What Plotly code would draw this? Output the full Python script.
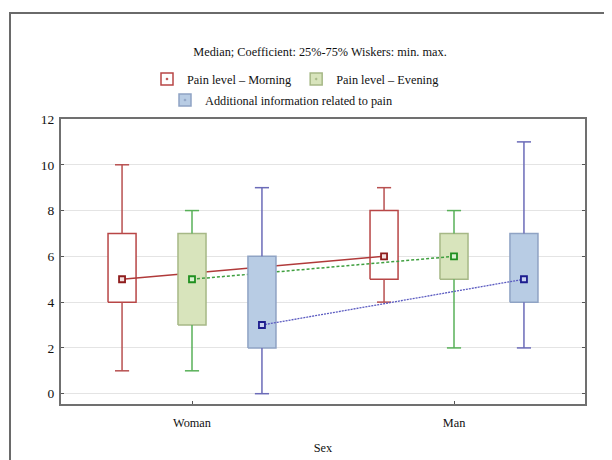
import plotly.graph_objects as go

# ---------------- data ----------------
categories = ["Woman", "Man"]
series_names = ["Pain level – Morning", "Pain level – Evening",
                "Additional information related to pain"]

morning_min = [1, 4]
morning_q1 = [4, 5]
morning_med = [5, 6]
morning_q3 = [7, 8]
morning_max = [10, 9]

evening_min = [1, 2]
evening_q1 = [3, 5]
evening_med = [5, 6]
evening_q3 = [7, 7]
evening_max = [8, 8]

extra_min = [0, 2]
extra_q1 = [2, 4]
extra_med = [3, 5]
extra_q3 = [6, 7]
extra_max = [9, 11]

y_ticks = [0, 2, 4, 6, 8, 10, 12]

# ---------------- styling ----------------
FONT = "Liberation Serif, Times New Roman, serif"
styles = [
    dict(fill="#ffffff", border="#b84646", whisk="#b85050",
         med="#8e1c1c", medfill="#f4e0e0", line=dict(color="#b03a3a", width=1.5, dash="solid"),
         legend="legend"),
    dict(fill="#d8e4bc", border="#a6b886", whisk="#58b058",
         med="#1f8f1f", medfill="#d8f0d0", line=dict(color="#3f9f3f", width=1.5, dash="3px,2px"),
         legend="legend"),
    dict(fill="#b8cce4", border="#8fa3c4", whisk="#6b6bb8",
         med="#1c1c8e", medfill="#c8d0f0", line=dict(color="#5a5ac0", width=1.3, dash="2px,1px"),
         legend="legend2"),
]
offsets = [-0.267, 0.0, 0.267]
half_w = 0.0535
cap_w = 0.027

data = [
    (morning_min, morning_q1, morning_med, morning_q3, morning_max),
    (evening_min, evening_q1, evening_med, evening_q3, evening_max),
    (extra_min, extra_q1, extra_med, extra_q3, extra_max),
]

fig = go.Figure()

for s, (mn, q1, md, q3, mx) in enumerate(data):
    st = styles[s]
    xs = [i + offsets[s] for i in range(len(categories))]
    # box bodies
    bx, by = [], []
    for x, a, b in zip(xs, q1, q3):
        bx += [x - half_w, x + half_w, x + half_w, x - half_w, x - half_w, None]
        by += [a, a, b, b, a, None]
    fig.add_trace(go.Scatter(x=bx, y=by, mode="lines", fill="toself",
                             fillcolor=st["fill"], line=dict(color=st["border"], width=1.5),
                             showlegend=False, hoverinfo="skip"))
    # whiskers
    wx, wy = [], []
    for x, lo, a, b, hi in zip(xs, mn, q1, q3, mx):
        wx += [x, x, None, x, x, None, x - cap_w, x + cap_w, None, x - cap_w, x + cap_w, None]
        wy += [b, hi, None, a, lo, None, hi, hi, None, lo, lo, None]
    fig.add_trace(go.Scatter(x=wx, y=wy, mode="lines", line=dict(color=st["whisk"], width=1.5),
                             showlegend=False, hoverinfo="skip"))
    # median connecting line and markers
    fig.add_trace(go.Scatter(x=xs, y=md, mode="lines+markers", line=st["line"],
                             marker=dict(symbol="square", size=6, color=st["medfill"],
                                         line=dict(color=st["med"], width=1.8)),
                             name=series_names[s], showlegend=False))

# legend entries (box icon with median mark)
for s in range(len(series_names)):
    st = styles[s]
    fig.add_trace(go.Scatter(x=[None], y=[None], mode="markers",
                             marker=dict(symbol="square-dot", size=12, color=st["fill"],
                                         line=dict(color=st["border"], width=1.5)),
                             name=series_names[s], legend=st["legend"]))

L_MARGIN, T_MARGIN, PW, PH = 53, 111, 524, 285

fig.update_layout(
    width=612, height=460,
    margin=dict(l=L_MARGIN, r=35, t=T_MARGIN, b=64),
    paper_bgcolor="white", plot_bgcolor="white",
    font=dict(family=FONT, size=12.3, color="#111"),
    title=dict(text="Median; Coefficient: 25%-75% Wiskers: min. max.",
               x=312 / 612, xanchor="center", y=1 - 44 / 460, yanchor="middle",
               font=dict(family=FONT, size=12.3, color="#111")),
    legend=dict(orientation="h", x=(139 - L_MARGIN) / PW, xanchor="left",
                y=1 + (T_MARGIN - 71) / PH, yanchor="middle",
                font=dict(family=FONT, size=12.3, color="#111"), bgcolor="rgba(0,0,0,0)",
                itemwidth=30, tracegroupgap=0),
    legend2=dict(orientation="h", x=(157 - L_MARGIN) / PW, xanchor="left",
                 y=1 + (T_MARGIN - 92) / PH, yanchor="middle",
                 font=dict(family=FONT, size=12.3, color="#111"), bgcolor="rgba(0,0,0,0)",
                 itemwidth=30),
    showlegend=True,
    xaxis=dict(range=[-0.5, 1.5], tickvals=list(range(len(categories))), ticktext=categories,
               showgrid=False, zeroline=False, showline=True, linecolor="#707070", linewidth=2,
               mirror=True, ticks="inside", ticklen=3, tickcolor="#555", ticklabelstandoff=6,
               title=dict(text="Sex", font=dict(family=FONT, size=12.3), standoff=15),
               tickfont=dict(family=FONT, size=12.3)),
    yaxis=dict(range=[-0.45, 12], tickvals=y_ticks, showgrid=True, gridcolor="#e4e4e4",
               gridwidth=1, zeroline=False, showline=True, linecolor="#707070", linewidth=2,
               mirror="ticks", ticks="inside", ticklen=3, tickcolor="#555", ticklabelstandoff=2,
               tickfont=dict(family=FONT, size=13.5)),
    shapes=[dict(type="rect", xref="paper", yref="paper",
                 x0=(2 - L_MARGIN) / PW, x1=1.3, y0=-0.5, y1=1 + (T_MARGIN - 5) / PH,
                 line=dict(color="#6a6a6a", width=2), fillcolor="rgba(0,0,0,0)", layer="below")],
)

fig.write_html("out.html")
